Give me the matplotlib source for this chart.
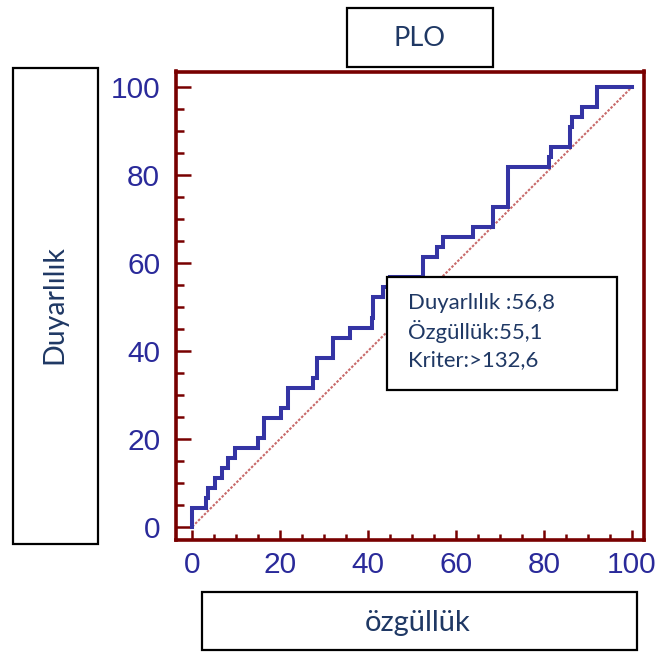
import numpy as np
import matplotlib
matplotlib.use('Agg')
import matplotlib.pyplot as plt
from matplotlib.patches import Rectangle

# ROC egrisi kose noktalari (x: 100-ozgulluk, y: duyarlilik)
roc_x = [0, 0, 3.1, 3.5, 5.2, 6.7, 8.2, 9.7, 14.9, 16.4, 20.3, 21.8, 27.5, 28.3,
         32.0, 35.9, 40.8, 41.2, 43.5, 44.9, 52.5, 55.6, 57.1, 63.8, 68.5, 71.9,
         81.2, 81.6, 86.0, 86.4, 88.6, 92.2, 100]
roc_y = [0, 4.3, 6.6, 8.9, 11.1, 13.4, 15.7, 17.9, 20.2, 24.8, 27.1, 31.6, 33.8, 38.4,
         43.0, 45.3, 47.6, 52.3, 54.5, 56.8, 61.4, 63.6, 65.9, 68.2, 72.7, 81.8,
         84.1, 86.4, 90.9, 93.2, 95.5, 100, 100]
ticks = [0, 20, 40, 60, 80, 100]
title = 'PLO'
xlabel = 'özgüllük'
ylabel = 'Duyarlılık'
info = ['Duyarlılık :56,8', 'Özgüllük:55,1', 'Kriter:>132,6']

W, H = 661, 653
dark_red = '#780000'
txt_blue = '#1f3864'
fig = plt.figure(figsize=(W/100, H/100), dpi=100)

def fx(px): return px / W
def fy(py): return 1 - py / H

ax = fig.add_axes([fx(175.5), fy(539.5), fx(643.5) - fx(175.5), fy(71.5) - fy(539.5)])
ax.set_xlim(-3.82, 102.7)
ax.set_ylim(-2.91, 103.6)

ax.plot([0, 100], [0, 100], color='#c86a6a', lw=1.5, ls=(0, (1.2, 0.8)), zorder=2)
ax.plot(roc_x, roc_y, drawstyle='steps-post', color='#3434a4', lw=2.9,
        solid_joinstyle='miter', zorder=3)

for s in ['left', 'right', 'top', 'bottom']:
    ax.spines[s].set_color(dark_red)
    ax.spines[s].set_linewidth(2.6)

ax.set_xticks(ticks)
ax.set_yticks(ticks)
ax.set_xticks(np.arange(0, 101, 5), minor=True)
ax.set_yticks(np.arange(0, 101, 5), minor=True)
ax.tick_params(axis='both', which='both', direction='in', color=dark_red, width=1.8,
               labelcolor='#2a2a9a', labelsize=21.5)
ax.tick_params(axis='x', which='major', length=7.5, pad=8)
ax.tick_params(axis='x', which='minor', length=4)
ax.tick_params(axis='y', which='major', length=10.5, pad=11)
ax.tick_params(axis='y', which='minor', length=6)
for lab in ax.get_xticklabels() + ax.get_yticklabels():
    lab.set_family('Liberation Sans')

def box(px0, py0, px1, py1, z=5):
    r = Rectangle((fx(px0), fy(py1)), fx(px1) - fx(px0), fy(py0) - fy(py1),
                  transform=fig.transFigure, facecolor='white', edgecolor='black',
                  lw=1.6, zorder=z)
    fig.add_artist(r)

# baslik kutusu
box(346.7, 7.7, 492.7, 66.7)
fig.text(fx(420), fy(38), title, ha='center', va='center', fontsize=19.5,
         family='Lato', color=txt_blue, zorder=6)
# y ekseni kutusu
box(13.3, 68.3, 98.3, 544)
fig.text(fx(54), fy(305), ylabel, ha='center', va='center', rotation=90,
         fontsize=20.5, family='Lato', color=txt_blue, zorder=6)
# x ekseni kutusu
box(201.7, 591.7, 636.7, 650)
fig.text(fx(418), fy(623), xlabel, ha='center', va='center', fontsize=21,
         family='Lato', color=txt_blue, zorder=6)
# bilgi kutusu
box(387.3, 277.3, 617.3, 390)
for i, t in enumerate(info):
    fig.text(fx(408.3), fy(303.3 + 28.3 * i), t, ha='left', va='center',
             fontsize=15.9, family='Lato', color=txt_blue, zorder=6)

fig.savefig('out.png', dpi=100)
